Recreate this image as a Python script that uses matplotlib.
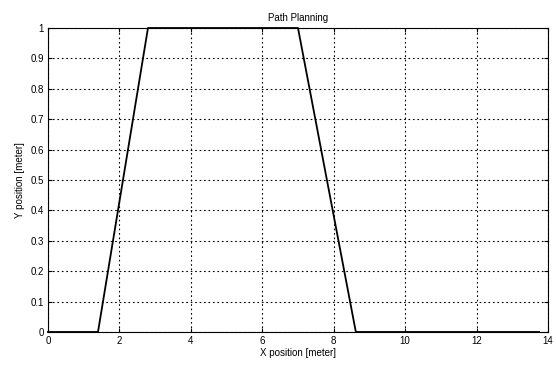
import matplotlib
matplotlib.use("Agg")
import matplotlib.pyplot as plt

# path waypoints (x in meter, y in meter)
x_pos = [0.0, 1.4, 2.8, 7.0, 8.62, 13.75]
y_pos = [0.0, 0.0, 1.0, 1.0, 0.0, 0.0]

x_ticks = [0, 2, 4, 6, 8, 10, 12, 14]
y_ticks = [0, 0.1, 0.2, 0.3, 0.4, 0.5, 0.6, 0.7, 0.8, 0.9, 1]

plt.rcParams['font.family'] = ['Liberation Sans', 'DejaVu Sans']
plt.rcParams['font.size'] = 7

fig = plt.figure(figsize=(5.56, 3.67), dpi=100)
ax = fig.add_axes([0.0863, 0.0954, 0.8993, 0.8283])

ax.plot(x_pos, y_pos, color='black', linewidth=1.3, clip_on=False, zorder=3)

ax.set_xlim(0, 14)
ax.set_ylim(0, 1)
ax.set_xticks(x_ticks)
ax.set_yticks(y_ticks)
ax.set_xticklabels([str(t) for t in x_ticks])
ax.set_yticklabels(['0', '0.1', '0.2', '0.3', '0.4', '0.5', '0.6', '0.7', '0.8', '0.9', '1'])
ax.tick_params(direction='in', length=3, width=0.8, top=True, right=True, pad=3)

ax.grid(True, color='black', linestyle=(0, (1.5, 2.5)), linewidth=0.8)
for s in ax.spines.values():
    s.set_color('black')
    s.set_linewidth(0.8)

ax.set_title('Path Planning', fontsize=7, pad=5)
ax.set_xlabel('X position [meter]', labelpad=1)
ax.set_ylabel('Y position [meter]', labelpad=4)

fig.savefig('out.png', dpi=100)
